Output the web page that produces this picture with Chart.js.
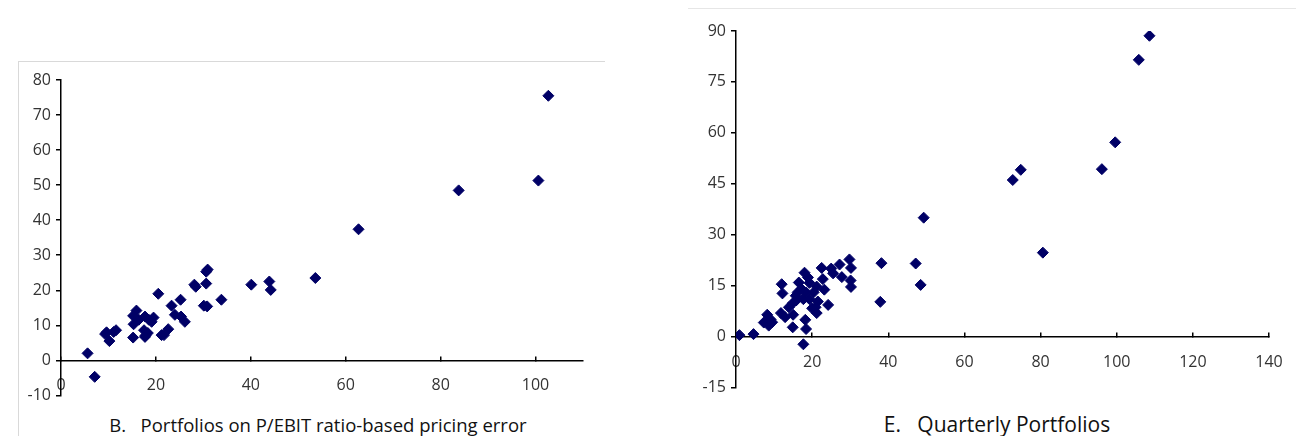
<!DOCTYPE html>
<html>
<head>
<meta charset="utf-8">
<script src="https://cdn.jsdelivr.net/npm/chart.js@4.4.1/dist/chart.umd.min.js"></script>
<style>
  body { margin: 0; background: #fff; width: 1296px; height: 436px; overflow: hidden; position: relative; font-family: "Open Sans", sans-serif; }
  .box { position: absolute; }
  #boxB { left: 18px; top: 61px; width: 586px; height: 400px; border-top: 1px solid #d9d9d9; border-left: 1px solid #d9d9d9; }
  #boxE { left: 688px; top: 8px; width: 620px; height: 1px; border-top: 1px solid #e6e6e6; }
  .wrap { position: absolute; }
  #wrapB { left: 18px; top: 61px; width: 582px; height: 349px; }
  #wrapE { left: 688px; top: 8px; width: 608px; height: 394px; }
  .caption { position: absolute; color: #111; white-space: pre; text-align: center; }
  #capB { left: 27px; width: 582px; top: 412px; font-size: 18.5px; }
  #capE { left: 688px; width: 618px; top: 410px; font-size: 21px; }
</style>
</head>
<body>
<div class="box" id="boxB"></div>
<div class="box" id="boxE"></div>
<div class="wrap" id="wrapB"><canvas id="chartB"></canvas></div>
<div class="wrap" id="wrapE"><canvas id="chartE"></canvas></div>
<div class="caption" id="capB">B.   Portfolios on P/EBIT ratio-based pricing error</div>
<div class="caption" id="capE">E.   Quarterly Portfolios</div>

<script>
// Panel B: P/EBIT portfolios (x, y)
var panelBX = [102.7, 100.6, 83.8, 62.7, 53.6, 43.9, 44.2, 40.1, 30.9, 30.6, 30.6, 28.1, 28.4, 33.8, 30.1,
               30.8, 25.2, 23.3, 20.5, 24.0, 25.3, 26.1, 22.6, 21.7, 21.2, 15.9, 15.2, 15.3, 16.4, 17.7,
               18.5, 19.5, 19.1, 15.2, 17.5, 17.8, 18.3, 17.7, 11.6, 11.1, 9.6, 9.3, 10.2, 5.6, 7.1];
var panelBY = [75.5, 51.3, 48.5, 37.4, 23.5, 22.5, 20.1, 21.6, 25.9, 25.3, 21.9, 21.6, 21.0, 17.3, 15.6,
               15.4, 17.3, 15.6, 19.0, 13.0, 12.5, 11.0, 8.9, 7.2, 7.2, 14.2, 12.7, 10.3, 11.6, 12.5,
               11.6, 12.2, 11.0, 6.5, 8.6, 7.1, 7.8, 6.7, 8.6, 8.1, 8.0, 7.5, 5.5, 2.0, -4.7];

// Panel E: quarterly portfolios (x, y)
var panelEX = [108.6, 105.8, 99.6, 96.1, 74.8, 72.7, 80.6, 49.3, 47.2, 48.5, 38.2, 37.9, 29.8, 30.2, 30.1,
               30.2, 27.2, 27.8, 25.0, 25.5, 22.5, 22.8, 23.2, 24.2, 21.2, 21.5, 21.2, 20.0, 19.3, 18.9,
               18.0, 18.4, 17.7, 18.2, 18.4, 17.7, 16.5, 16.2, 15.8, 14.9, 13.9, 15.0, 14.9, 12.0, 12.2,
               11.8, 12.9, 9.1, 8.2, 7.3, 8.6, 9.5, 4.6, 0.9, 20.4, 17.2, 15.7, 19.3, 20.9];
var panelEY = [88.6, 81.5, 57.2, 49.3, 49.1, 46.1, 24.7, 35.0, 21.5, 15.2, 21.6, 10.2, 22.7, 20.2, 16.5,
               14.6, 21.2, 17.5, 20.0, 18.6, 20.2, 16.9, 13.8, 9.3, 14.7, 10.3, 6.9, 8.3, 15.8, 17.4,
               18.8, 13.0, 11.0, 4.9, 2.2, -2.3, 15.9, 13.0, 10.6, 9.8, 8.6, 6.4, 2.7, 15.4, 12.7,
               6.9, 5.7, 5.0, 6.4, 4.1, 3.2, 4.2, 0.7, 0.4, 13.0, 14.0, 12.0, 11.0, 8.6];

var ticksB = { xMin: 0, xMax: 110, xStep: 20, yMin: -10, yMax: 80, yStep: 10 };
var ticksE = { xMin: 0, xMax: 140, xStep: 20, yMin: -15, yMax: 90, yStep: 15 };

var pointColor = "#000066";

function toPoints(xs, ys) {
	var pts = [];
	for (var i = 0; i < xs.length; i++) {
		pts.push({ x: xs[i], y: ys[i] });
	}
	return pts;
}

// x axis sits on y = 0, its tick marks point up into the plot (negative length)
function makeChart(id, xs, ys, t, yAxisWidth, pad, fontSize, xLabelPad) {
	var ctx = document.getElementById(id).getContext('2d');
	return new Chart(ctx, {
		type: 'scatter',
		data: {
			datasets: [{
				data: toPoints(xs, ys),
				backgroundColor: pointColor,
				borderColor: pointColor,
				borderWidth: 1,
				pointStyle: 'rectRot',
				pointRadius: 5.5,
				pointHoverRadius: 5.5
			}]
		},
		options: {
			responsive: true,
			maintainAspectRatio: false,
			animation: false,
			layout: { padding: pad },
			plugins: {
				legend: { display: false },
				tooltip: { enabled: false }
			},
			scales: {
				x: {
					type: 'linear',
					position: { y: 0 },
					min: t.xMin,
					max: t.xMax,
					// label padding would otherwise eat into the plot width
					afterFit: function (scale) { scale.paddingLeft = 0; scale.paddingRight = 0; },
					border: { display: true, color: '#000', width: 1.5 },
					grid: { display: true, drawOnChartArea: false, drawTicks: true, tickLength: -5, color: '#000', lineWidth: 1.5 },
					ticks: {
						stepSize: t.xStep,
						includeBounds: false,
						color: '#333',
						padding: xLabelPad,
						maxRotation: 0,
						font: { family: 'Open Sans', size: fontSize }
					}
				},
				y: {
					type: 'linear',
					position: 'left',
					min: t.yMin,
					max: t.yMax,
					afterFit: function (scale) { scale.width = yAxisWidth; },
					border: { display: true, color: '#000', width: 1.5 },
					grid: { display: true, drawOnChartArea: false, drawTicks: true, tickLength: 5, color: '#000', lineWidth: 1.5 },
					ticks: {
						stepSize: t.yStep,
						color: '#333',
						padding: 5,
						font: { family: 'Open Sans', size: fontSize }
					}
				}
			}
		}
	});
}

makeChart('chartB', panelBX, panelBY, ticksB, 43, { top: 19, right: 17, bottom: 11, left: 0 }, 16, 20);
makeChart('chartE', panelEX, panelEY, ticksE, 48, { top: 23, right: 27, bottom: 3, left: 0 }, 16, 21);
</script>
</body>
</html>
